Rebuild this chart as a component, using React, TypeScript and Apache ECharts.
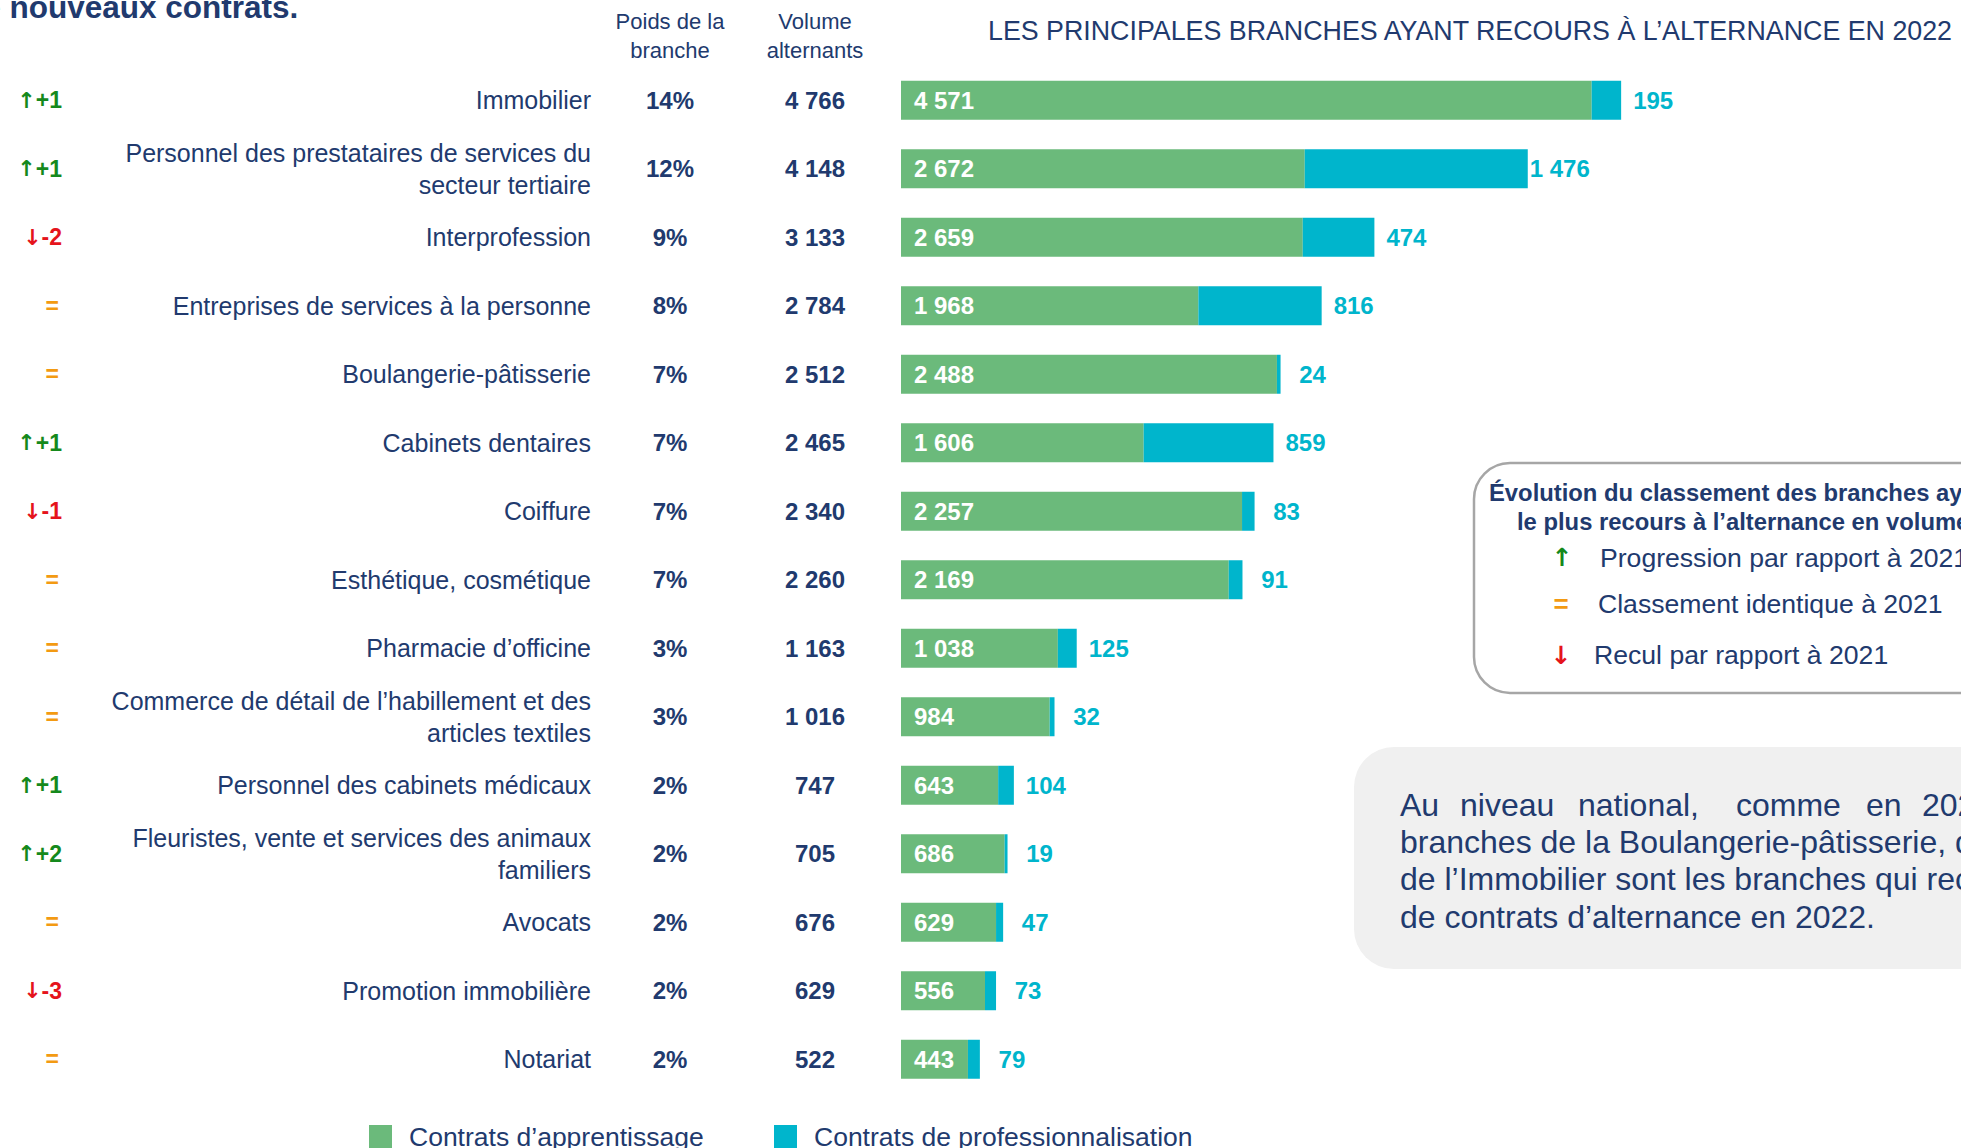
import React, { useEffect, useRef } from "react";
import * as echarts from "echarts";

const categories = [
  "Immobilier",
  "Personnel des prestataires de services du\nsecteur tertiaire",
  "Interprofession",
  "Entreprises de services à la personne",
  "Boulangerie-pâtisserie",
  "Cabinets dentaires",
  "Coiffure",
  "Esthétique, cosmétique",
  "Pharmacie d’officine",
  "Commerce de détail de l’habillement et des\narticles textiles",
  "Personnel des cabinets médicaux",
  "Fleuristes, vente et services des animaux\nfamiliers",
  "Avocats",
  "Promotion immobilière",
  "Notariat",
];
const apprentissage = [4571, 2672, 2659, 1968, 2488, 1606, 2257, 2169, 1038, 984, 643, 686, 629, 556, 443];
const professionnalisation = [195, 1476, 474, 816, 24, 859, 83, 91, 125, 32, 104, 19, 47, 73, 79];
const volume = [4766, 4148, 3133, 2784, 2512, 2465, 2340, 2260, 1163, 1016, 747, 705, 676, 629, 522];
const poids = [14, 12, 9, 8, 7, 7, 7, 7, 3, 3, 2, 2, 2, 2, 2];
const rankChange = [1, 1, -2, 0, 0, 1, -1, 0, 0, 0, 1, 2, 0, -3, 0];

const seriesNames = ["Contrats d’apprentissage", "Contrats de professionnalisation"];
const title = "LES PRINCIPALES BRANCHES AYANT RECOURS À L’ALTERNANCE EN 2022";

const NAVY = "#213A6E";
const GREEN = "#6BBA7B";
const CYAN = "#00B5CC";
const UP = "#15891C";
const DOWN = "#E5141B";
const EQ = "#F39A12";
const FONT = "'Liberation Sans', Arial, sans-serif";
const ARROW_FONT = "'DejaVu Sans', sans-serif";

const fmt = (n: number) => String(n).replace(/\B(?=(\d{3})+(?!\d))/g, " ");

export default function App() {
  const ref = useRef<HTMLDivElement>(null);
  useEffect(() => {
    document.body.style.margin = "0";
    document.body.style.overflow = "hidden";
    const chart = echarts.init(ref.current!, null, { renderer: "svg" });
    const baseY = {
      type: "category" as const,
      data: categories,
      inverse: true,
      gridIndex: 0,
      position: "left" as const,
      axisLine: { show: false },
      axisTick: { show: false },
      splitLine: { show: false },
    };
    chart.setOption({
      animation: false,
      textStyle: { fontFamily: FONT },
      grid: { left: 901, top: 66, width: 906.6, height: 1027.5, outerBoundsMode: "none", containLabel: false },
      xAxis: { type: "value", min: 0, max: 6000, show: false },
      yAxis: [
        {
          ...baseY,
          axisLabel: { interval: 0, margin: 310, fontSize: 25, lineHeight: 32, color: NAVY, fontFamily: FONT, align: "right" },
        },
        {
          ...baseY,
          axisLabel: {
            interval: 0, margin: 231, fontSize: 24, fontWeight: "bold", color: NAVY, fontFamily: FONT, align: "center",
            formatter: (_v: string, i: number) => poids[i] + "%",
          },
        },
        {
          ...baseY,
          axisLabel: {
            interval: 0, margin: 86, fontSize: 24, fontWeight: "bold", color: NAVY, fontFamily: FONT, align: "center",
            formatter: (_v: string, i: number) => fmt(volume[i]),
          },
        },
        {
          ...baseY,
          axisLabel: {
            interval: 0, margin: 839, align: "right", fontFamily: FONT,
            formatter: (_v: string, i: number) => {
              const r = rankChange[i];
              if (r > 0) return "{ua|↑}{u|+" + r + "}";
              if (r < 0) return "{da|↓}{d|" + r + "}";
              return "{e|=}";
            },
            rich: {
              ua: { color: UP, fontWeight: "bold", fontSize: 22, fontFamily: ARROW_FONT },
              u: { color: UP, fontWeight: "bold", fontSize: 23, fontFamily: FONT },
              da: { color: DOWN, fontWeight: "bold", fontSize: 22, fontFamily: ARROW_FONT },
              d: { color: DOWN, fontWeight: "bold", fontSize: 23, fontFamily: FONT },
              e: { color: EQ, fontWeight: "bold", fontSize: 23, fontFamily: FONT, padding: [0, 3, 0, 0] },
            },
          },
        },
      ],
      legend: [
        {
          left: 369, top: 1123, padding: 0, itemWidth: 23, itemHeight: 23, icon: "rect",
          data: [seriesNames[0]],
          textStyle: { fontSize: 26.5, color: NAVY, fontFamily: FONT, lineHeight: 23, padding: [0, 0, 0, 12] },
        },
        {
          left: 774, top: 1123, padding: 0, itemWidth: 23, itemHeight: 23, icon: "rect",
          data: [seriesNames[1]],
          textStyle: { fontSize: 26.5, color: NAVY, fontFamily: FONT, lineHeight: 23, padding: [0, 0, 0, 12] },
        },
      ],
      series: [
        {
          name: seriesNames[0], type: "bar", stack: "total", data: apprentissage, barWidth: 39,
          itemStyle: { color: GREEN },
          label: {
            show: true, position: "insideLeft", distance: 13, color: "#ffffff", fontWeight: "bold", fontSize: 24,
            fontFamily: FONT, formatter: (p: any) => fmt(p.value),
          },
        },
        {
          name: seriesNames[1], type: "bar", stack: "total", data: professionnalisation, barWidth: 39,
          itemStyle: { color: CYAN },
          label: {
            show: true, position: "right", distance: 32, align: "center", color: CYAN, fontWeight: "bold", fontSize: 24,
            fontFamily: FONT, formatter: (p: any) => fmt(p.value),
          },
        },
      ],
      graphic: [
        {
          type: "text", left: -36, top: -9,
          style: { text: "de nouveaux contrats.", font: `bold 31.5px ${FONT}`, fill: NAVY },
        },
        {
          type: "text", x: 670, y: 35.5,
          style: { text: "Poids de la\nbranche", font: `22px ${FONT}`, fill: NAVY, align: "center", verticalAlign: "middle", lineHeight: 29 },
        },
        {
          type: "text", x: 815, y: 35.5,
          style: { text: "Volume\nalternants", font: `22px ${FONT}`, fill: NAVY, align: "center", verticalAlign: "middle", lineHeight: 29 },
        },
        {
          type: "text", x: 988, y: 31,
          style: { text: title, font: `26.8px ${FONT}`, fill: NAVY, align: "left", verticalAlign: "middle" },
        },
        {
          type: "rect", shape: { x: 1474, y: 463, width: 600, height: 230, r: 36 },
          style: { fill: "#ffffff", stroke: "#A6A6A6", lineWidth: 2.5 },
        },
        {
          type: "text", x: 1489, y: 492,
          style: { text: "Évolution du classement des branches ayant eu", font: `bold 23.8px ${FONT}`, fill: NAVY, verticalAlign: "middle" },
        },
        {
          type: "text", x: 1517, y: 521,
          style: { text: "le plus recours à l’alternance en volume", font: `bold 23.8px ${FONT}`, fill: NAVY, verticalAlign: "middle" },
        },
        {
          type: "text", x: 1562, y: 557,
          style: { text: "↑", font: `bold 25px ${ARROW_FONT}`, fill: UP, align: "center", verticalAlign: "middle" },
        },
        {
          type: "text", x: 1600, y: 558,
          style: { text: "Progression par rapport à 2021", font: `26.6px ${FONT}`, fill: NAVY, verticalAlign: "middle" },
        },
        {
          type: "text", x: 1561, y: 604,
          style: { text: "=", font: `bold 26px ${FONT}`, fill: EQ, align: "center", verticalAlign: "middle" },
        },
        {
          type: "text", x: 1598, y: 604,
          style: { text: "Classement identique à 2021", font: `26.6px ${FONT}`, fill: NAVY, verticalAlign: "middle" },
        },
        {
          type: "text", x: 1561, y: 655,
          style: { text: "↓", font: `bold 25px ${ARROW_FONT}`, fill: DOWN, align: "center", verticalAlign: "middle" },
        },
        {
          type: "text", x: 1594, y: 655,
          style: { text: "Recul par rapport à 2021", font: `26.6px ${FONT}`, fill: NAVY, verticalAlign: "middle" },
        },
        {
          type: "rect", shape: { x: 1354, y: 747, width: 700, height: 222, r: 40 },
          style: { fill: "#F0F0F0" },
        },
        ...[
          ["Au", 1400], ["niveau", 1460], ["national,", 1578], ["comme", 1736], ["en", 1866], ["2020,", 1922],
        ].map(([w, x]) => ({
          type: "text", x: x as number, y: 805,
          style: { text: w as string, font: `32px ${FONT}`, fill: NAVY, verticalAlign: "middle" },
        })),
        {
          type: "text", x: 1400, y: 842,
          style: { text: "branches de la Boulangerie-pâtisserie, de la Coiffure et", font: `32px ${FONT}`, fill: NAVY, verticalAlign: "middle" },
        },
        {
          type: "text", x: 1400, y: 879,
          style: { text: "de l’Immobilier sont les branches qui recrutent le plus", font: `32px ${FONT}`, fill: NAVY, verticalAlign: "middle" },
        },
        {
          type: "text", x: 1400, y: 917,
          style: { text: "de contrats d’alternance en 2022.", font: `32px ${FONT}`, fill: NAVY, verticalAlign: "middle" },
        },
      ],
    });
    return () => chart.dispose();
  }, []);
  return <div ref={ref} style={{ width: 1961, height: 1148 }} />;
}
